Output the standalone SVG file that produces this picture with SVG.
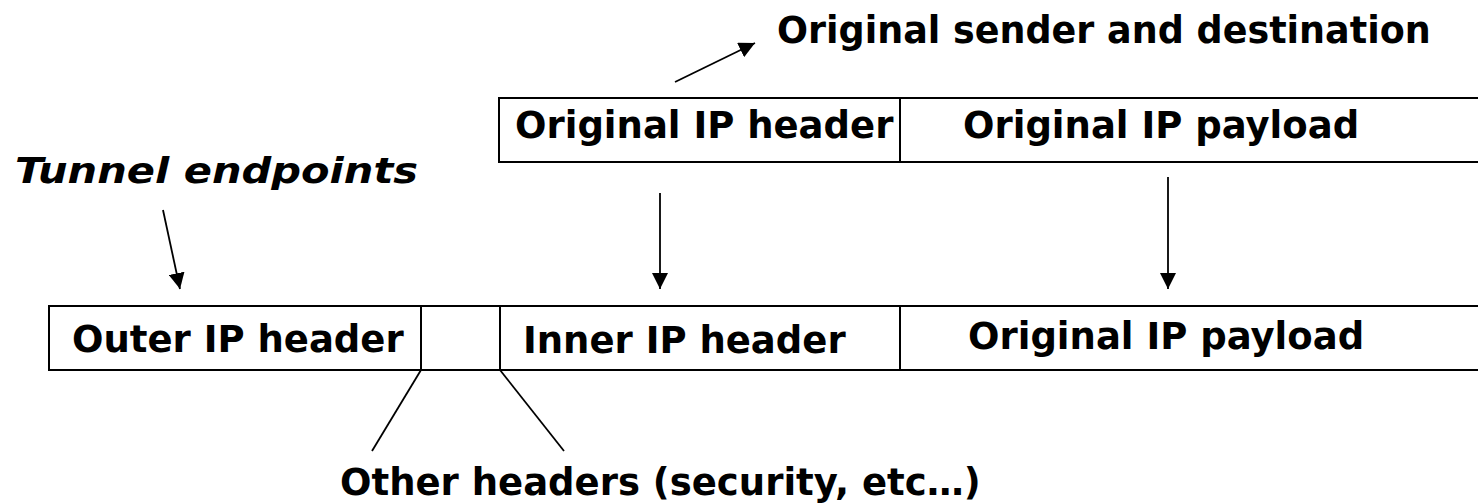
<svg xmlns="http://www.w3.org/2000/svg" width="1478" height="503" viewBox="0 0 1478 503">
  <style>
    .t { font-family: "DejaVu Sans", Verdana, sans-serif; font-weight: bold; font-size: 37px; fill: #000; }
    .cap { font-size: 36.5px; }
    .it { font-style: italic; font-size: 35px; }
    .box { fill: #fff; stroke: #000; stroke-width: 2; }
    .ln { stroke: #000; stroke-width: 1.8; fill: none; }
    .arr { stroke: #000; stroke-width: 1.8; fill: none; marker-end: url(#ah); }
  </style>
  <defs>
    <marker id="ah" markerUnits="userSpaceOnUse" markerWidth="16" markerHeight="16" refX="16" refY="8" orient="auto" viewBox="0 0 16 16">
      <path d="M0,0 L16,8 L0,16 z" fill="#000"/>
    </marker>
  </defs>
  <rect width="1478" height="503" fill="#fff"/>

  <g id="caption-original">
    <text class="t cap" x="777" y="43">Original sender and destination</text>
  </g>
  <g id="caption-tunnel">
    <text class="t it" x="15" y="183" textLength="403" lengthAdjust="spacingAndGlyphs">Tunnel endpoints</text>
  </g>

  <g id="orig-header">
    <rect class="box" x="499" y="98" width="401" height="64"/>
    <text class="t" x="515" y="138">Original IP header</text>
  </g>
  <g id="orig-payload">
    <rect class="box" x="900" y="98" width="600" height="64"/>
    <text class="t" x="963" y="138">Original IP payload</text>
  </g>

  <g id="outer-header">
    <rect class="box" x="49" y="306" width="372" height="64"/>
    <text class="t" x="72" y="352">Outer IP header</text>
  </g>
  <g id="other-headers">
    <rect class="box" x="421" y="306" width="79" height="64"/>
  </g>
  <g id="inner-header">
    <rect class="box" x="500" y="306" width="400" height="64"/>
    <text class="t" x="523" y="353">Inner IP header</text>
  </g>
  <g id="new-payload">
    <rect class="box" x="900" y="306" width="600" height="64"/>
    <text class="t" x="968" y="349">Original IP payload</text>
  </g>

  <g id="caption-other">
    <text class="t" x="340" y="495">Other headers (security, etc…)</text>
  </g>

  <g id="connectors">
    <line class="arr" x1="675" y1="82" x2="755" y2="43"/>
    <line class="arr" x1="163" y1="210" x2="180" y2="289"/>
    <line class="arr" x1="660" y1="193" x2="660" y2="289"/>
    <line class="arr" x1="1168" y1="177" x2="1168" y2="289"/>
    <line class="ln" x1="421" y1="370" x2="372" y2="451"/>
    <line class="ln" x1="500" y1="370" x2="564" y2="451"/>
  </g>
</svg>
